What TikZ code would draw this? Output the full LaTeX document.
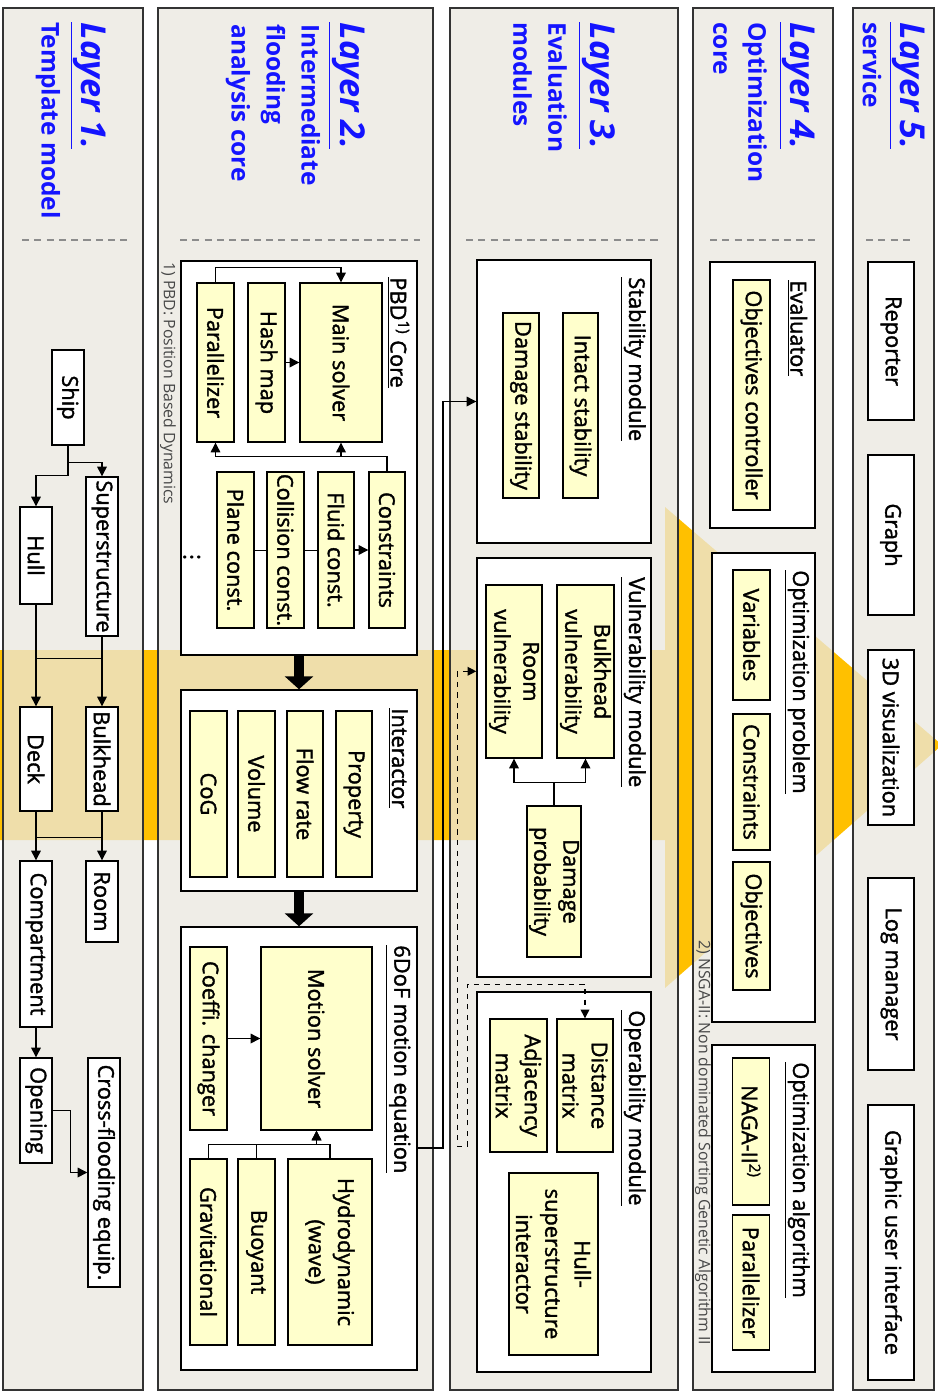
\documentclass[tikz,border=0pt]{standalone}
\usepackage{fontspec}
\setmainfont{Open Sans}
\newfontfamily\boxface{Open Sans}[FakeBold=1.6]
\usetikzlibrary{arrows.meta, positioning, calc}
\definecolor{panelgray}{RGB}{234,232,224}
\definecolor{boxyellow}{RGB}{255,255,204}
\definecolor{layerblue}{RGB}{20,20,255}
\definecolor{flowamber}{RGB}{255,192,0}
\definecolor{notegray}{RGB}{70,70,70}
\newcommand\bxfont{\boxface\fontsize{12.4}{16.6}\selectfont}

\tikzset{
  panel/.style={draw=black!80, line width=1.1pt, fill=panelgray, fill opacity=0.76},
  grp/.style={draw, fill=white, line width=0.8pt},
  wbox/.style={draw, fill=white, line width=0.8pt, inner sep=1pt, align=center, font=\bxfont},
  ybox/.style={wbox, fill=boxyellow},
  sz/.style 2 args={minimum width=#1*0.02cm, minimum height=#2*0.02cm},
  arr/.style={-{Triangle[length=5.5pt,width=5.5pt]}, line width=0.7pt},
  darr/.style={{Triangle[length=5pt,width=5pt]}-{Triangle[length=5pt,width=5pt]}, dashed, line width=0.7pt},
  fat/.style={-{Triangle[length=0.26cm,width=0.56cm]}, line width=0.2cm},
  sep/.style={draw=black!45, dash pattern=on 4pt off 3pt, line width=0.7pt},
  gtitle/.style={anchor=west, font=\bxfont, inner sep=0pt},
  ltitle/.style={anchor=west, text=layerblue, font=\bfseries\itshape\fontsize{19.5}{21}\selectfont, inner sep=0pt},
  lsub/.style={anchor=west, align=left, text=layerblue, font=\bfseries\fontsize{13.9}{19.9}\selectfont, inner sep=0pt},
  fnote/.style={anchor=west, text=notegray, font=\fontsize{9}{10}\selectfont, inner sep=0pt},
}

\begin{document}
\begin{tikzpicture}[rotate=-90, transform shape, x=0.02cm, y=0.02cm]
  \useasboundingbox (0,0) rectangle (1393,937);

  % flow arrow behind the layers
  \fill[flowamber] (650,-5) -- (650,665) -- (507,665) -- (745,942) -- (988,665) -- (840,665) -- (840,-5) -- cycle;

  % layers
  \path[panel] (8,3) rectangle (1390,143);
  \path[panel] (8,158) rectangle (1390,433);
  \path[panel] (8,450) rectangle (1390,678);
  \path[panel] (8,693) rectangle (1390,833);
  \path[panel] (8,853) rectangle (1390,934);
  \draw[sep] (240,22) -- (240,128);
  \draw[sep] (240,180) -- (240,420);
  \draw[sep] (240,466) -- (240,660);
  \draw[sep] (240,710) -- (240,815);
  \draw[sep] (240,866) -- (240,915);

  \node[ltitle] (l1t) at (22,88) {\underline{Layer 1.}};
  \node[lsub] (l1s) at (22,48) {Template model};
  \node[ltitle] (l2t) at (22,347) {\underline{Layer 2.}};
  \node[lsub] (l2s) at (24,273) {Intermediate\\flooding\\analysis core};
  \node[ltitle] (l3t) at (22,597) {\underline{Layer 3.}};
  \node[lsub] (l3s) at (22,540) {Evaluation\\modules};
  \node[ltitle] (l4t) at (22,797) {\underline{Layer 4.}};
  \node[lsub] (l4s) at (22,740) {Optimization\\core};
  \node[ltitle] (l5t) at (22,907) {\underline{Layer 5.}};
  \node[lsub] (l5s) at (22,872) {service};

  % layer 1
  \node[wbox, sz={95}{32}] (ship) at (397.5,68) {Ship};
  \node[wbox, sz={159}{32}] (sup) at (556.5,102) {Superstructure};
  \node[wbox, sz={97}{32}] (hull) at (555.5,36) {Hull};
  \node[wbox, sz={104}{32}] (bulk) at (759,102) {Bulkhead};
  \node[wbox, sz={104}{32}] (deck) at (759,36) {Deck};
  \node[wbox, sz={81}{32}] (room) at (901.5,102) {Room};
  \node[wbox, sz={166}{32}] (comp) at (944,36) {Compartment};
  \node[wbox, sz={105}{32}] (open) at (1110.5,36) {Opening};
  \node[wbox, sz={229}{32}] (cross) at (1172.5,104) {Cross-flooding equip.};
  \draw[arr] (ship.east) -- ++(17,0) |- (sup.west);
  \draw[arr] (ship.east) -- ++(30,0) |- (hull.west);
  \draw[arr] (hull) -- (deck);
  \draw[arr] (sup) -- (bulk);
  \draw ($(hull.east)+(54,0)$) -- ($(sup.east)+(22,0)$);
  \draw[arr] (deck) -- (comp);
  \draw[arr] (bulk) -- (room);
  \draw ($(deck.east)+(26,0)$) -- ($(bulk.east)+(26,0)$);
  \draw[arr] (comp) -- (open);
  \draw[arr] (open.north) -- ++(0,18) -| (cross.south);

  % layer 2
  \node[grp, sz={394}{236}] (pbd) at (458,299) {};
  \node[gtitle] (pbdt) at (277,398) {\underline{PBD\textsuperscript{1)} Core}};
  \node[ybox, sz={159}{82}] (msol) at (362.5,341) {Main solver};
  \node[ybox, sz={159}{37}] (hash) at (362.5,266.5) {Hash map};
  \node[ybox, sz={159}{37}] (para) at (362.5,215.5) {Parallelizer};
  \node[ybox, sz={156}{36}] (cons) at (550,387) {Constraints};
  \node[ybox, sz={156}{36}] (fluid) at (550,336) {Fluid const.};
  \node[ybox, sz={156}{37}] (coll) at (550,285.5) {Collision const.};
  \node[ybox, sz={156}{37}] (plane) at (550,235.5) {Plane const.};
  \node[font=\bxfont] (dots) at (557,197) {$\vdots$};
  \draw[arr] (cons.west) -- ++(-15,0) |- (para.east);
  \draw[arr] (cons.west) -- ++(-15,0) |- (msol.east);
  \draw (plane) -- (coll);
  \draw (coll) -- (fluid);
  \draw[arr] (fluid) -- (cons);
  \draw[arr] (hash) -- (msol);
  \draw[arr] (para.west) -- ++(-15,0) |- (msol.west);
  \node[fnote] (fn1) at (262,168) {1) PBD: Position Based Dynamics};

  \node[grp, sz={201}{236}] (inter) at (790.5,299) {};
  \node[gtitle] (intert) at (708,398) {\underline{Interactor}};
  \node[ybox, sz={166}{36}] (prop) at (794,354) {Property};
  \node[ybox, sz={166}{36}] (flow) at (794,305) {Flow rate};
  \node[ybox, sz={166}{37}] (vol) at (794,256.5) {Volume};
  \node[ybox, sz={166}{37}] (cog) at (794,208.5) {CoG};

  \node[grp, sz={443}{236}] (dof) at (1148.5,299) {};
  \node[gtitle] (doft) at (945,398) {\underline{6DoF motion equation}};
  \node[ybox, sz={183}{111}] (motion) at (1038.5,316.5) {Motion solver};
  \node[ybox, sz={183}{37}] (coef) at (1038.5,208.5) {Coeffi. changer};
  \node[ybox, sz={186}{84}] (hydro) at (1252,330) {Hydrodynamic\\(wave)};
  \node[ybox, sz={186}{37}] (buoy) at (1252,256.5) {Buoyant};
  \node[ybox, sz={186}{37}] (grav) at (1252,208.5) {Gravitational};
  \draw[arr] (coef) -- (motion);
  \draw[arr] (grav.west) -- ++(-14,0) |- (motion.east);
  \draw (buoy.west) -- ++(-14,0);
  \draw[arr] (hydro.west) -- ++(-14,0) |- (motion.east);
  \draw[fat] (pbd) -- (inter);
  \draw[fat] (inter) -- (dof);

  % layer 3
  \node[grp, sz={283}{174}] (stab) at (401.5,564) {};
  \node[gtitle] (stabt) at (277,633) {\underline{Stability module}};
  \node[ybox, sz={185}{35}] (intact) at (405.5,580.5) {Intact stability};
  \node[ybox, sz={185}{36}] (dstab) at (405.5,521) {Damage stability};

  \node[grp, sz={419}{174}] (vul) at (767.5,564) {};
  \node[gtitle] (vult) at (577,633) {\underline{Vulnerability module}};
  \node[ybox, sz={173}{57}] (bulkv) at (671.5,585.5) {Bulkhead\\vulnerability};
  \node[ybox, sz={173}{56}] (roomv) at (671.5,514) {Room\\vulnerability};
  \node[ybox, sz={151}{54}] (dprob) at (881.5,554) {Damage\\probability};
  \draw[arr] (dprob.west) -- ++(-23,0) |- (bulkv.east);
  \draw[arr] (dprob.west) -- ++(-23,0) |- (roomv.east);

  \node[grp, sz={380}{174}] (oper) at (1182,564) {};
  \node[gtitle] (opert) at (1010,633) {\underline{Operability module}};
  \node[ybox, sz={133}{56}] (dist) at (1085.5,585) {Distance\\matrix};
  \node[ybox, sz={133}{57}] (adj) at (1085.5,518.5) {Adjacency\\matrix};
  \node[ybox, sz={182}{89}] (hsi) at (1264,553.5) {Hull-\\superstructure\\interactor};

  \coordinate (dofout) at (1148,417);
  \draw[arr] (dofout) -- ++(0,26) -| (stab.south);
  \draw[darr] ($(vul.south west)+(114,0)$) -- ++(0,-19) -- ++(475,0) -- ++(0,10) -- ++(-162,0) |- (dist.west);

  % layer 4
  \node[grp, sz={266}{105}] (evalr) at (395,762.5) {};
  \node[gtitle] (evalt) at (280,797) {\underline{Evaluator}};
  \node[ybox, sz={230}{37}] (objc) at (395,751.5) {Objectives controller};
  \node[grp, sz={469}{103}] (oprob) at (787.5,763.5) {};
  \node[gtitle] (oprobt) at (570,797) {\underline{Optimization problem}};
  \node[ybox, sz={130}{37}] (vars) at (635,751.5) {Variables};
  \node[ybox, sz={136}{37}] (ocons) at (782,751.5) {Constraints};
  \node[ybox, sz={128}{37}] (objs) at (926,751.5) {Objectives};
  \node[grp, sz={327}{103}] (oalg) at (1208.5,763.5) {};
  \node[gtitle] (oalgt) at (1062,797) {\underline{Optimization algorithm}};
  \node[ybox, sz={147}{37}] (naga) at (1131.5,751) {NAGA-II\textsuperscript{2)}};
  \node[ybox, sz={135}{37}] (par2) at (1282.5,751) {Parallelizer};
  \node[fnote] (fn2) at (940,703) {2) NSGA-II: Non dominated Sorting Genetic Algorithm II};

  % layer 5
  \node[wbox, sz={158}{46}] (rep) at (341,891) {Reporter};
  \node[wbox, sz={160}{46}] (graph) at (535,891) {Graph};
  \node[wbox, sz={175}{46}] (vis) at (737.5,891) {3D visualization};
  \node[wbox, sz={192}{46}] (logm) at (974,891) {Log manager};
  \node[wbox, sz={275}{46}] (gui) at (1242.5,891) {Graphic user interface};
\end{tikzpicture}
\end{document}
